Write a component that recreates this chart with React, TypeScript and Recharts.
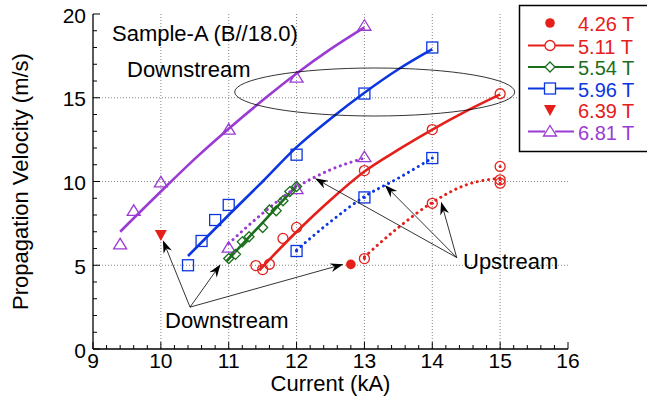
import React from "react";
import { ComposedChart, Line, Scatter, XAxis, YAxis, CartesianGrid } from "recharts";

// ---- data ----
const xMajor = [9, 10, 11, 12, 13, 14, 15, 16];
const yMajor = [0, 5, 10, 15, 20];
const xGrid = [10, 11, 12, 13, 14, 15];
const yGrid = [5, 10, 15];

// 4.26 T (single point, downstream)
const b426Pts = [{ x: 12.8, y: 5.05 }];
// 5.11 T
const b511DownPts = [
  { x: 11.4, y: 4.98 }, { x: 11.5, y: 4.74 }, { x: 11.6, y: 5.06 }, { x: 11.8, y: 6.6 },
  { x: 12, y: 7.26 }, { x: 13, y: 10.65 }, { x: 14, y: 13.1 }, { x: 15, y: 15.24 },
];
const b511DownFit = [
  { x: 11.45, y: 4.7 }, { x: 12, y: 7.0 }, { x: 12.5, y: 8.9 }, { x: 13, y: 10.6 },
  { x: 13.5, y: 11.9 }, { x: 14, y: 13.1 }, { x: 14.5, y: 14.2 }, { x: 15, y: 15.2 },
];
const b511UpPts = [{ x: 13, y: 5.4 }, { x: 14, y: 8.7 }, { x: 15, y: 10.9 }, { x: 15, y: 10.1 }, { x: 15, y: 9.9 }];
const b511UpFit = [{ x: 13, y: 5.5 }, { x: 13.5, y: 7.25 }, { x: 14, y: 8.75 }, { x: 14.5, y: 9.8 }, { x: 15, y: 10.2 }];
// 5.54 T
const b554Pts = [
  { x: 11, y: 5.4 }, { x: 11.1, y: 5.65 }, { x: 11.2, y: 6.4 }, { x: 11.3, y: 6.7 }, { x: 11.5, y: 7.25 },
  { x: 11.6, y: 8.3 }, { x: 11.7, y: 8.25 }, { x: 11.8, y: 8.85 }, { x: 11.9, y: 9.4 }, { x: 12, y: 9.7 },
];
const b554Fit = [{ x: 10.97, y: 5.25 }, { x: 11.5, y: 7.55 }, { x: 12, y: 9.75 }];
// 5.96 T
const b596DownPts = [
  { x: 10.4, y: 5.0 }, { x: 10.6, y: 6.45 }, { x: 10.8, y: 7.7 }, { x: 11, y: 8.6 },
  { x: 12, y: 11.6 }, { x: 13, y: 15.25 }, { x: 14, y: 18.0 },
];
const b596DownFit = [
  { x: 10.4, y: 5.55 }, { x: 11, y: 8.0 }, { x: 11.5, y: 10.0 }, { x: 12, y: 12.05 },
  { x: 12.5, y: 13.75 }, { x: 13, y: 15.3 }, { x: 13.5, y: 16.7 }, { x: 14, y: 17.9 },
];
const b596UpPts = [{ x: 12, y: 5.85 }, { x: 13, y: 9.05 }, { x: 14, y: 11.4 }];
const b596UpFit = [{ x: 12, y: 5.9 }, { x: 12.5, y: 7.6 }, { x: 13, y: 9.1 }, { x: 13.5, y: 10.2 }, { x: 14, y: 11.4 }];
// 6.39 T (single point, downstream)
const b639Pts = [{ x: 10, y: 6.8 }];
// 6.81 T
const b681DownPts = [
  { x: 9.4, y: 6.25 }, { x: 9.6, y: 8.25 }, { x: 10, y: 9.95 }, { x: 11, y: 13.1 }, { x: 12, y: 16.2 }, { x: 13, y: 19.3 },
];
const b681DownFit = [
  { x: 9.4, y: 7.0 }, { x: 10, y: 9.4 }, { x: 10.5, y: 11.35 }, { x: 11, y: 13.15 },
  { x: 11.5, y: 14.85 }, { x: 12, y: 16.45 }, { x: 12.5, y: 17.9 }, { x: 13, y: 19.2 },
];
const b681UpPts = [{ x: 11, y: 6.05 }, { x: 12, y: 9.55 }, { x: 13, y: 11.45 }];
const b681UpFit = [{ x: 11, y: 6.3 }, { x: 11.5, y: 8.1 }, { x: 12, y: 9.65 }, { x: 12.5, y: 10.7 }, { x: 13, y: 11.4 }];

const legendLabels = ["4.26 T", "5.11 T", "5.54 T", "5.96 T", "6.39 T", "6.81 T"];

// ---- look ----
const RED = "#e5201b";
const GREEN = "#1b6e1b";
const BLUE = "#0b36e0";
const PURPLE = "#9a3bd4";
const FONT = "'Liberation Sans', Arial, sans-serif";

const W = 647;
const H = 403;
const PL = 93, PT = 14, PR = 568, PB = 349;
const sx = (x: number) => PL + ((x - 9) / 7) * (PR - PL);
const sy = (y: number) => PB - (y / 20) * (PB - PT);

const xTicks: number[] = [];
for (let i = 0; i <= 35; i++) xTicks.push(+(9 + i * 0.2).toFixed(1));
const yTicks: number[] = [];
for (let i = 0; i <= 20; i++) yTicks.push(i);

type Side = "bottom" | "top" | "left" | "right";
const makeTick = (side: Side, majors: number[], labels: boolean) => (props: any) => {
  const { x, y, payload } = props;
  const v = payload.value;
  const major = majors.some((m) => Math.abs(m - v) < 1e-6);
  const len = major ? 7 : 4;
  let l = null;
  if (side === "bottom") l = <line x1={x} y1={y} x2={x} y2={y - len} />;
  if (side === "top") l = <line x1={x} y1={y} x2={x} y2={y + len} />;
  if (side === "left") l = <line x1={x} y1={y} x2={x + len} y2={y} />;
  if (side === "right") l = <line x1={x} y1={y} x2={x - len} y2={y} />;
  return (
    <g>
      <g stroke="#000" strokeWidth={1}>{l}</g>
      {labels && major && side === "bottom" && (
        <text x={x} y={y + 19} textAnchor="middle" fontSize={21} fontFamily={FONT} fill="#000">{v}</text>
      )}
      {labels && major && side === "left" && (
        <text x={x - 7} y={y + 1} textAnchor="end" dominantBaseline="central" fontSize={21} fontFamily={FONT} fill="#000">{v}</text>
      )}
    </g>
  );
};

const openCircle = (c: string, dot: boolean) => (p: any) => (
  <g>
    <circle cx={p.cx} cy={p.cy} r={5} fill="none" stroke={c} strokeWidth={1.3} />
    {dot && <circle cx={p.cx} cy={p.cy} r={1.5} fill={c} />}
  </g>
);
const openSquare = (c: string, dot: boolean) => (p: any) => (
  <g>
    <rect x={p.cx - 5.5} y={p.cy - 5.5} width={11} height={11} fill="none" stroke={c} strokeWidth={1.3} />
    {dot && <circle cx={p.cx} cy={p.cy} r={1.5} fill={c} />}
  </g>
);
const openTriangle = (c: string) => (p: any) => (
  <polygon points={`${p.cx},${p.cy - 6} ${p.cx - 6.5},${p.cy + 4.5} ${p.cx + 6.5},${p.cy + 4.5}`} fill="none" stroke={c} strokeWidth={1.3} />
);
const openDiamond = (c: string) => (p: any) => (
  <polygon points={`${p.cx},${p.cy - 5} ${p.cx + 5},${p.cy} ${p.cx},${p.cy + 5} ${p.cx - 5},${p.cy}`} fill="none" stroke={c} strokeWidth={1.3} />
);
const filledCircle = (c: string) => (p: any) => <circle cx={p.cx} cy={p.cy} r={4.8} fill={c} />;
const filledDown = (c: string) => (p: any) => (
  <polygon points={`${p.cx - 6},${p.cy - 5} ${p.cx + 6},${p.cy - 5} ${p.cx},${p.cy + 6}`} fill={c} />
);

const solid = { strokeWidth: 2.6, dot: false, isAnimationActive: false, type: "monotone" as const };
const dotted = { strokeWidth: 3, strokeDasharray: "0.1 5.6", strokeLinecap: "round" as const, dot: false, isAnimationActive: false, type: "monotone" as const };

function Arrow({ from, to }: { from: [number, number]; to: [number, number] }) {
  const x1 = sx(from[0]), y1 = sy(from[1]), x2 = sx(to[0]), y2 = sy(to[1]);
  const dx = x2 - x1, dy = y2 - y1;
  const d = Math.hypot(dx, dy);
  const ux = dx / d, uy = dy / d;
  const L = 13, Wd = 4.5, N = 4;
  const bx = x2 - ux * L, by = y2 - uy * L;
  const nx = x2 - ux * (L - N), ny = y2 - uy * (L - N);
  const pts = `${x2},${y2} ${bx - uy * Wd},${by + ux * Wd} ${nx},${ny} ${bx + uy * Wd},${by - ux * Wd}`;
  return (
    <g>
      <line x1={x1} y1={y1} x2={nx} y2={ny} stroke="#000" strokeWidth={0.8} />
      <polygon points={pts} fill="#000" />
    </g>
  );
}

const downArrowFrom: [number, number] = [10.43, 2.5];
const downArrowTo: [number, number][] = [[10.03, 6.5], [10.88, 5.06], [12.69, 5.06]];
const upArrowFrom: [number, number] = [14.36, 5.46];
const upArrowTo: [number, number][] = [[12.27, 10.19], [13.3, 9.79], [14.13, 8.79]];

function LegendBox() {
  const rows = [23, 45.5, 67, 88.5, 110, 131.5];
  const colors = [RED, RED, GREEN, BLUE, RED, PURPLE];
  const hasLine = [false, true, true, true, false, true];
  const shapes = [filledCircle(RED), openCircle(RED, false), openDiamond(GREEN), openSquare(BLUE, false), filledDown(RED), openTriangle(PURPLE)];
  return (
    <g>
      <rect x={519.5} y={5.5} width={140} height={146} fill="#fff" stroke="#000" strokeWidth={1.5} />
      {legendLabels.map((lab, i) => (
        <g key={lab}>
          {hasLine[i] && <line x1={528} y1={rows[i]} x2={574} y2={rows[i]} stroke={colors[i]} strokeWidth={2} />}
          {hasLine[i] && <rect x={545} y={rows[i] - 6} width={10} height={12} fill="#fff" />}
          {shapes[i]({ cx: 550, cy: rows[i] })}
          <text x={578} y={rows[i] + 1} dominantBaseline="central" fontSize={20} fontFamily={FONT} fill={colors[i]}>{lab}</text>
        </g>
      ))}
    </g>
  );
}

export default function App() {
  return (
    <div style={{ position: "absolute", left: 0, top: 0, width: W, height: H, background: "#fff" }}>
      <ComposedChart width={W} height={H} margin={{ top: PT, right: W - PR, bottom: 0, left: 0 }}>
        <CartesianGrid stroke="#888" strokeDasharray="1 2" horizontalValues={yGrid} verticalValues={xGrid} />
        <XAxis xAxisId={0} type="number" dataKey="x" domain={[9, 16]} ticks={xTicks} interval={0} height={H - PB}
          tickSize={0} tickMargin={0} tickLine={false} axisLine={{ stroke: "#000", strokeWidth: 1.3 }}
          tick={makeTick("bottom", xMajor, true)} allowDataOverflow />
        <XAxis xAxisId="top" orientation="top" type="number" domain={[9, 16]} ticks={xTicks} interval={0} height={0}
          tickSize={0} tickMargin={0} tickLine={false} axisLine={{ stroke: "#000", strokeWidth: 1.3 }}
          tick={makeTick("top", xMajor, false)} allowDataOverflow />
        <YAxis yAxisId={0} type="number" domain={[0, 20]} ticks={yTicks} interval={0} width={PL}
          tickSize={0} tickMargin={0} tickLine={false} axisLine={{ stroke: "#000", strokeWidth: 1.3 }}
          tick={makeTick("left", yMajor, true)} allowDataOverflow />
        <YAxis yAxisId="right" orientation="right" type="number" domain={[0, 20]} ticks={yTicks} interval={0} width={0}
          tickSize={0} tickMargin={0} tickLine={false} axisLine={{ stroke: "#000", strokeWidth: 1.3 }}
          tick={makeTick("right", yMajor, false)} allowDataOverflow />

        <Line data={b681DownFit} dataKey="y" stroke={PURPLE} {...solid} />
        <Line data={b596DownFit} dataKey="y" stroke={BLUE} {...solid} />
        <Line data={b554Fit} dataKey="y" stroke={GREEN} {...solid} />
        <Line data={b511DownFit} dataKey="y" stroke={RED} {...solid} />
        <Line data={b681UpFit} dataKey="y" stroke={PURPLE} {...dotted} />
        <Line data={b596UpFit} dataKey="y" stroke={BLUE} {...dotted} />
        <Line data={b511UpFit} dataKey="y" stroke={RED} {...dotted} />

        <Scatter data={b681DownPts} dataKey="y" shape={openTriangle(PURPLE)} isAnimationActive={false} />
        <Scatter data={b681UpPts} dataKey="y" shape={openTriangle(PURPLE)} isAnimationActive={false} />
        <Scatter data={b596DownPts} dataKey="y" shape={openSquare(BLUE, false)} isAnimationActive={false} />
        <Scatter data={b596UpPts} dataKey="y" shape={openSquare(BLUE, true)} isAnimationActive={false} />
        <Scatter data={b554Pts} dataKey="y" shape={openDiamond(GREEN)} isAnimationActive={false} />
        <Scatter data={b511DownPts} dataKey="y" shape={openCircle(RED, false)} isAnimationActive={false} />
        <Scatter data={b511UpPts} dataKey="y" shape={openCircle(RED, true)} isAnimationActive={false} />
        <Scatter data={b426Pts} dataKey="y" shape={filledCircle(RED)} isAnimationActive={false} />
        <Scatter data={b639Pts} dataKey="y" shape={filledDown(RED)} isAnimationActive={false} />
      </ComposedChart>

      <svg width={W} height={H} style={{ position: "absolute", left: 0, top: 0, pointerEvents: "none" }}>
        <g fontFamily={FONT} fill="#000">
          <text x={112} y={33} dominantBaseline="central" fontSize={22}>Sample-A (B//18.0)</text>
          <text x={127} y={69} dominantBaseline="central" fontSize={22}>Downstream</text>
          <text x={165} y={320} dominantBaseline="central" fontSize={22}>Downstream</text>
          <text x={463} y={261} dominantBaseline="central" fontSize={22}>Upstream</text>
          <text x={(PL + PR) / 2} y={383} textAnchor="middle" dominantBaseline="central" fontSize={22}>Current (kA)</text>
          <text x={20} y={(PT + PB) / 2} textAnchor="middle" dominantBaseline="central" fontSize={22}
            transform={`rotate(-90 20 ${(PT + PB) / 2})`}>Propagation Velocity (m/s)</text>
        </g>
        <ellipse cx={374.7} cy={92} rx={140} ry={24} fill="none" stroke="#000" strokeWidth={0.8} />
        {downArrowTo.map((t, i) => <Arrow key={"d" + i} from={downArrowFrom} to={t} />)}
        {upArrowTo.map((t, i) => <Arrow key={"u" + i} from={upArrowFrom} to={t} />)}
        <LegendBox />
      </svg>
    </div>
  );
}
